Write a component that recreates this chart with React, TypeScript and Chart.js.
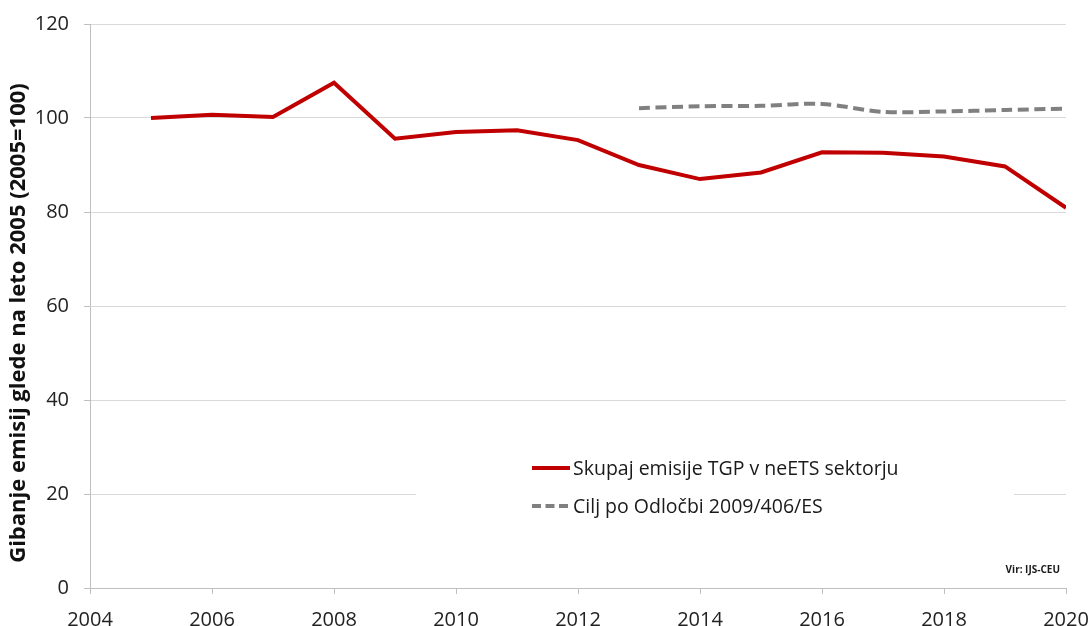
import React, { useEffect, useRef } from "react";
import { Chart, registerables } from "chart.js";

Chart.register(...registerables);

const years = [2005, 2006, 2007, 2008, 2009, 2010, 2011, 2012, 2013, 2014, 2015, 2016, 2017, 2018, 2019, 2020];
const emissions = [100.0, 100.7, 100.2, 107.5, 95.6, 97.0, 97.4, 95.3, 90.0, 87.0, 88.4, 92.7, 92.6, 91.8, 89.7, 80.9];
const targetYears = [2013, 2014, 2015, 2016, 2017, 2018, 2019, 2020];
const targetValues = [102.1, 102.5, 102.6, 103.0, 101.3, 101.4, 101.7, 102.0];
const xTicks = [2004, 2006, 2008, 2010, 2012, 2014, 2016, 2018, 2020];

const seriesLabels = ["Skupaj emisije TGP v neETS sektorju", "Cilj po Odločbi 2009/406/ES"];
const yTitle = "Gibanje emisij glede na leto 2005 (2005=100)";
const sourceText = "Vir: IJS-CEU";

const RED = "#c00000";
const GRAY = "#808080";
const FONT = "'Open Sans', sans-serif";

const overlayPlugin = {
  id: "overlay",
  afterDraw(chart: any) {
    const ctx = chart.ctx;
    ctx.save();
    // y axis title
    ctx.save();
    ctx.translate(19, 323);
    ctx.rotate(-Math.PI / 2);
    ctx.font = `bold 22px ${FONT}`;
    ctx.fillStyle = "#111111";
    ctx.textAlign = "center";
    ctx.textBaseline = "middle";
    ctx.fillText(yTitle, 0, 0);
    ctx.restore();
    // legend box
    ctx.fillStyle = "#ffffff";
    ctx.fillRect(416, 452, 598, 72);
    const rows = [
      { y: 468, color: RED, dash: [] as number[], text: seriesLabels[0] },
      { y: 506, color: GRAY, dash: [9, 4.5], text: seriesLabels[1] },
    ];
    rows.forEach((r) => {
      ctx.beginPath();
      ctx.setLineDash(r.dash);
      ctx.strokeStyle = r.color;
      ctx.lineWidth = 4;
      ctx.moveTo(532, r.y);
      ctx.lineTo(570, r.y);
      ctx.stroke();
      ctx.setLineDash([]);
      ctx.fillStyle = "#1a1a1a";
      ctx.font = `19.5px ${FONT}`;
      ctx.textAlign = "left";
      ctx.textBaseline = "middle";
      ctx.fillText(r.text, 573, r.y + 1);
    });
    // source
    ctx.font = `bold 10px ${FONT}`;
    ctx.textAlign = "right";
    ctx.textBaseline = "middle";
    ctx.fillStyle = "#1a1a1a";
    ctx.fillText(sourceText, 1060, 570);
    ctx.restore();
  },
};

export default function App() {
  const ref = useRef<HTMLCanvasElement | null>(null);

  useEffect(() => {
    document.body.style.margin = "0";
    if (!ref.current) return;
    const chart = new Chart(ref.current, {
      type: "line",
      data: {
        datasets: [
          {
            label: seriesLabels[0],
            data: years.map((y, i) => ({ x: y, y: emissions[i] })),
            borderColor: RED,
            backgroundColor: RED,
            borderWidth: 4,
            pointRadius: 0,
            tension: 0,
          },
          {
            label: seriesLabels[1],
            data: targetYears.map((y, i) => ({ x: y, y: targetValues[i] })),
            borderColor: GRAY,
            backgroundColor: GRAY,
            borderWidth: 4,
            borderDash: [11, 5.5],
            pointRadius: 0,
            tension: 0.3,
          },
        ],
      },
      options: {
        animation: false,
        responsive: true,
        maintainAspectRatio: false,
        layout: { padding: { top: 24, right: 23, left: 0, bottom: 0 } },
        plugins: {
          legend: { display: false },
          tooltip: { enabled: false },
        },
        scales: {
          x: {
            type: "linear",
            min: 2004,
            max: 2020,
            afterBuildTicks: (scale: any) => {
              scale.ticks = xTicks.map((v) => ({ value: v }));
            },
            afterFit: (scale: any) => {
              scale.height = 38;
              scale.paddingLeft = 0;
              scale.paddingRight = 0;
            },
            ticks: {
              maxRotation: 0,
              autoSkip: false,
              padding: 14,
              color: "#222222",
              font: { family: FONT, size: 20 },
              callback: (v: any) => String(v),
            },
            grid: {
              drawOnChartArea: false,
              drawTicks: true,
              tickLength: 6,
              tickColor: "#bfbfbf",
            },
            border: { color: "#bfbfbf", width: 1 },
          },
          y: {
            min: 0,
            max: 120,
            afterFit: (scale: any) => {
              scale.width = 90;
              scale.paddingTop = 0;
              scale.paddingBottom = 0;
            },
            ticks: {
              stepSize: 20,
              padding: 15,
              color: "#222222",
              font: { family: FONT, size: 20 },
            },
            grid: {
              color: "#d9d9d9",
              tickColor: "#bfbfbf",
              tickLength: 6,
            },
            border: { color: "#bfbfbf", width: 1 },
          },
        },
      },
      plugins: [overlayPlugin],
    });
    return () => chart.destroy();
  }, []);

  return (
    <div style={{ width: 1089, height: 626, position: "relative" }}>
      <canvas ref={ref} />
    </div>
  );
}
